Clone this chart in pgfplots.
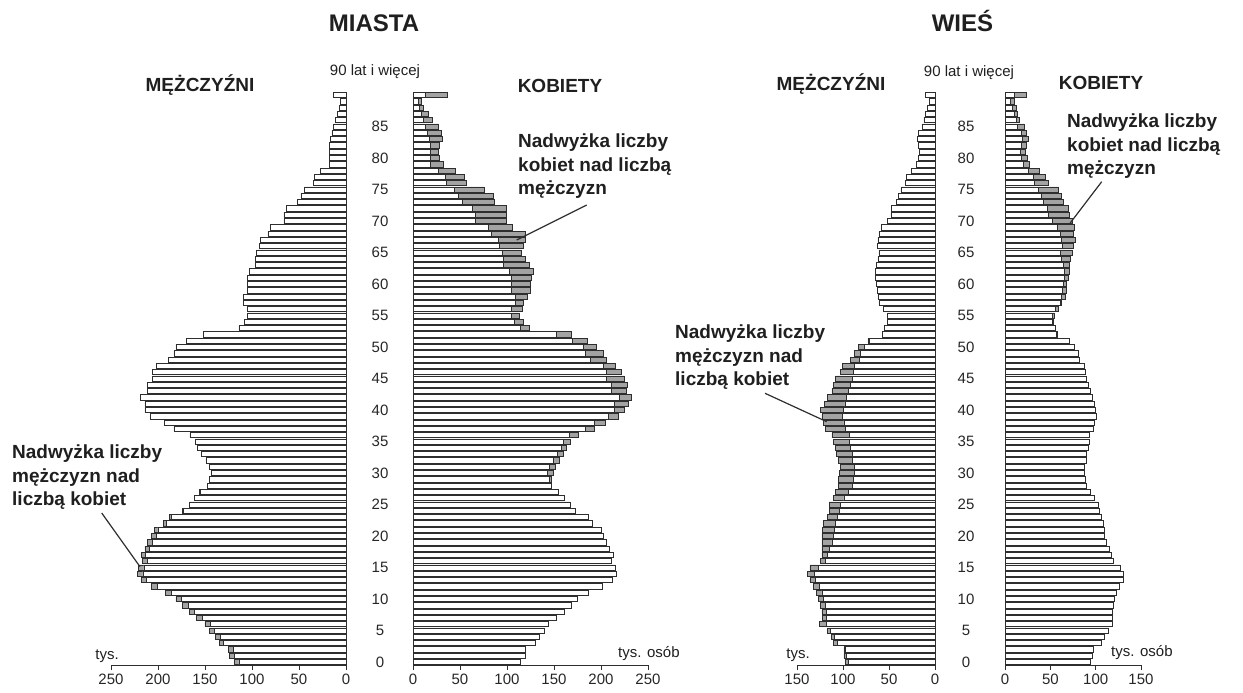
\documentclass[border=0pt]{standalone}
\usepackage{fontspec}
\setmainfont{Liberation Sans}
\usepackage{pgfplots}
\usepackage{pgfplotstable}
\pgfplotsset{compat=1.18}

% age, men (m), women (f) in thousands -- towns
\pgfplotstableread{
a m f
0 119 114
1 124 119
2 125 120
3 135 130
4 139 134
5 145 140
6 150 144
7 159 153
8 167 161
9 174 168
10 181 175
11 192 186
12 207 201
13 218 212
14 222 216
15 221 215
16 217 211
17 218 213
18 214 209
19 211 206
20 207 202
21 204 200
22 194 191
23 188 186
24 174 173
25 167 167
26 161 161
27 156 155
28 147 147
29 145 147
30 143 149
31 145 151
32 149 156
33 154 160
34 158 163
35 160 167
36 166 176
37 183 193
38 193 205
39 208 218
40 214 225
41 214 229
42 219 232
43 211 227
44 211 228
45 206 225
46 206 222
47 202 215
48 189 206
49 183 202
50 181 195
51 170 185
52 152 168
53 114 124
54 108 117
55 105 113
56 105 116
57 109 117
58 109 122
59 105 125
60 105 125
61 105 126
62 103 128
63 96 124
64 96 120
65 95 115
66 92 117
67 91 120
68 83 119
69 80 106
70 66 99
71 66 99
72 63 99
73 52 87
74 48 85
75 44 76
76 35 57
77 34 55
78 27 45
79 18 32
80 18 28
81 18 27
82 18 28
83 17 31
84 15 30
85 13 27
86 11 21
87 9 16
88 7 11
89 6 9
90 13 36
}\miasta

% villages
\pgfplotstableread{
a m f
0 97 94
1 99 96
2 99 97
3 110 106
4 113 109
5 117 114
6 126 118
7 122 118
8 123 118
9 125 119
10 127 121
11 129 123
12 132 126
13 136 130
14 139 131
15 136 127
16 125 119
17 123 117
18 123 115
19 123 112
20 123 110
21 122 109
22 121 108
23 117 106
24 115 104
25 115 103
26 110 99
27 108 94
28 105 90
29 105 89
30 104 88
31 103 88
32 105 90
33 107 90
34 108 92
35 110 93
36 112 93
37 119 97
38 121 99
39 123 101
40 125 100
41 120 98
42 117 96
43 112 94
44 110 92
45 108 90
46 103 89
47 101 88
48 92 82
49 88 81
50 83 77
51 73 71
52 57 58
53 55 56
54 52 53
55 52 54
56 56 59
57 61 62
58 62 67
59 63 68
60 64 68
61 65 70
62 65 71
63 64 71
64 62 72
65 61 74
66 63 75
67 62 78
68 61 75
69 58 76
70 52 74
71 48 71
72 47 70
73 42 64
74 40 62
75 37 59
76 32 48
77 31 44
78 26 38
79 20 27
80 18 25
81 17 22
82 18 24
83 19 26
84 18 23
85 14 21
86 12 16
87 10 14
88 8 12
89 6 10
90 10 23
}\wies

\definecolor{excess}{HTML}{A3A3A3}
\definecolor{edge}{HTML}{2E2E2E}

\pgfplotsset{
  pyramid/.style={
    scale only axis, anchor=south west,
    height=573.3pt, ymin=-0.5, ymax=90.5,
    axis x line*=bottom,
    x axis line style={line width=0.9pt, draw=edge, -},
    xtick align=outside, major tick length=5pt,
    tick style={line width=0.8pt, draw=edge},
    ticklabel style={font=\fontsize{15}{18}\selectfont, text=black!85},
    /pgf/number format/assume math mode=true,
    clip=false,
    every axis plot/.append style={xbar, bar shift=0pt, bar width=0.82,
      draw=edge, line width=0.65pt},
  },
  men/.style={pyramid, x dir=reverse, axis y line=none},
  women/.style={pyramid, axis y line*=left,
    y axis line style={draw=none}, ytick style={draw=none},
    ytick={0,5,...,85},
    yticklabel style={anchor=center, xshift=-#1}},
}

\newcommand{\note}[5]{% x, y1, line1, line2, line3
  \node[anchor=base west, inner sep=0pt] at (#1,#2) {#3};
  \node[anchor=base west, inner sep=0pt] at (#1,#2-23.5) {#4};
  \node[anchor=base west, inner sep=0pt] at (#1,#2-47) {#5};
}

\begin{document}
\begin{tikzpicture}[x=1pt, y=1pt]
\path[use as bounding box] (0,0) rectangle (1243,693);

% ---------- MIASTA ----------
\begin{axis}[men, at={(111pt,27.85pt)}, width=235pt,
  xmin=0, xmax=250, xtick={0,50,...,250}]
\addplot[fill=excess] table[x=m, y=a] {\miasta};
\addplot[fill=white] table[x expr={min(\thisrow{m},\thisrow{f})}, y=a] {\miasta};
\draw[edge, line width=0.9pt] (axis cs:0,-0.5) -- (axis cs:0,90.5);
\end{axis}

\begin{axis}[women=33pt, at={(413pt,27.85pt)}, width=235pt,
  xmin=0, xmax=250, xtick={0,50,...,250}]
\addplot[fill=excess] table[x=f, y=a] {\miasta};
\addplot[fill=white] table[x expr={min(\thisrow{m},\thisrow{f})}, y=a] {\miasta};
\draw[edge, line width=0.9pt] (axis cs:0,-0.5) -- (axis cs:0,90.5);
\end{axis}

% ---------- WIES ----------
\begin{axis}[men, at={(797pt,27.85pt)}, width=138pt,
  xmin=0, xmax=150, xtick={0,50,...,150}]
\addplot[fill=excess] table[x=m, y=a] {\wies};
\addplot[fill=white] table[x expr={min(\thisrow{m},\thisrow{f})}, y=a] {\wies};
\draw[edge, line width=0.9pt] (axis cs:0,-0.5) -- (axis cs:0,90.5);
\end{axis}

\begin{axis}[women=39pt, at={(1005pt,27.85pt)}, width=136pt,
  xmin=0, xmax=150, xtick={0,50,...,150}]
\addplot[fill=excess] table[x=f, y=a] {\wies};
\addplot[fill=white] table[x expr={min(\thisrow{m},\thisrow{f})}, y=a] {\wies};
\draw[edge, line width=0.9pt] (axis cs:0,-0.5) -- (axis cs:0,90.5);
\end{axis}

% titles and labels
\begin{scope}[every node/.style={text=black!88}]
\node[font=\fontsize{24}{28}\selectfont\bfseries, anchor=base] at (374,661) {MIASTA};
\node[font=\fontsize{24}{28}\selectfont\bfseries, anchor=base] at (962.5,661) {WIEŚ};
\node[font=\fontsize{19}{23}\selectfont\bfseries] at (200,608) {MĘŻCZYŹNI};
\node[font=\fontsize{19}{23}\selectfont\bfseries] at (831,609) {MĘŻCZYŹNI};
\node[font=\fontsize{19}{23}\selectfont\bfseries] at (560,607) {KOBIETY};
\node[font=\fontsize{19}{23}\selectfont\bfseries] at (1101,610) {KOBIETY};
\node[font=\fontsize{15}{18}\selectfont] at (375,621) {90 lat i więcej};
\node[font=\fontsize{15}{18}\selectfont] at (969,620) {90 lat i więcej};
\node[font=\fontsize{15}{18}\selectfont] at (107,37) {tys.};
\node[font=\fontsize{15}{18}\selectfont] at (798,38) {tys.};
\node[font=\fontsize{15}{18}\selectfont, anchor=west, inner sep=0pt] at (618,39) {tys. osób};
\node[font=\fontsize{15}{18}\selectfont, anchor=west, inner sep=0pt] at (1111,40) {tys. osób};
\end{scope}

% annotations
\begin{scope}[every node/.style={font=\fontsize{19}{23}\selectfont\bfseries, text=black!88}]
\note{518}{545}{Nadwyżka liczby}{kobiet nad liczbą}{mężczyzn}
\note{12}{234}{Nadwyżka liczby}{mężczyzn nad}{liczbą kobiet}
\note{675}{354}{Nadwyżka liczby}{mężczyzn nad}{liczbą kobiet}
\note{1067}{565}{Nadwyżka liczby}{kobiet nad liczbą}{mężczyzn}
\end{scope}
\draw[edge, line width=1.2pt] (586.7,488) -- (516.7,453);
\draw[edge, line width=1.2pt] (101.7,180) -- (140,126.3);
\draw[edge, line width=1.2pt] (765,299.7) -- (826.7,271.3);
\draw[edge, line width=1.2pt] (1101.7,511.3) -- (1070,469.7);
\end{tikzpicture}
\end{document}
